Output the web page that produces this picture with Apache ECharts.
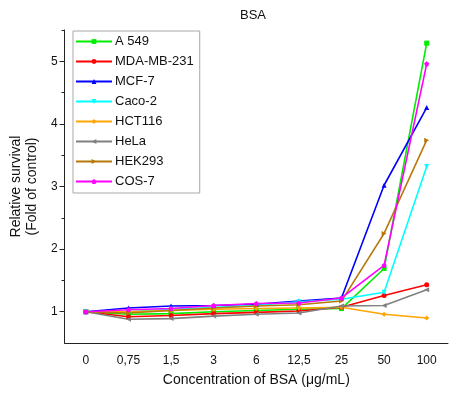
<!DOCTYPE html>
<html>
<head>
<meta charset="utf-8">
<script src="https://cdn.jsdelivr.net/npm/echarts@6/dist/echarts.min.js"></script>
<style>
  html, body { margin: 0; padding: 0; background: #fff; }
  #chart { width: 450px; height: 393px; }
</style>
</head>
<body>
<div id="chart"></div>
<script>
// concentrations (µg/mL)
const categories = ['0', '0,75', '1,5', '3', '6', '12,5', '25', '50', '100']

// relative survival, fold of control
const a549 = [1, 0.96, 0.97, 1.0, 1.02, 1.04, 1.05, 1.69, 5.29]
const mdaMb231 = [1, 0.92, 0.94, 0.97, 0.99, 1.01, 1.07, 1.26, 1.43]
const mcf7 = [1, 1.06, 1.09, 1.10, 1.12, 1.17, 1.22, 3.02, 4.26]
const caco2 = [1, 1.00, 1.04, 1.07, 1.10, 1.16, 1.20, 1.31, 3.32]
const hct116 = [1, 1.00, 1.02, 1.04, 1.05, 1.06, 1.07, 0.96, 0.90]
const hela = [1, 0.88, 0.89, 0.93, 0.96, 0.98, 1.09, 1.10, 1.35]
const hek293 = [1, 0.98, 1.02, 1.06, 1.09, 1.11, 1.17, 2.25, 3.74]
const cos7 = [1, 1.03, 1.05, 1.10, 1.13, 1.14, 1.22, 1.74, 4.96]

const majorTicks = [1, 2, 3, 4, 5]
const minorTicks = [1.5, 2.5, 3.5, 4.5, 5.5]

const font = 'Liberation Sans, Arial, sans-serif'
const pentagon = 'path://M0,-1 L0.951,-0.309 L0.588,0.809 L-0.588,0.809 L-0.951,-0.309 Z'

function line(name, data, color, symbol, rotate) {
  return {
    name,
    type: 'line',
    data,
    symbol,
    symbolSize: 5,
    symbolRotate: rotate || 0,
    showAllSymbol: true,
    lineStyle: { color, width: 1.6 },
    itemStyle: { color },
    emphasis: { disabled: true },
    animation: false
  }
}

const chart = echarts.init(document.getElementById('chart'), null, { renderer: 'canvas' })

chart.setOption({
  backgroundColor: '#fff',
  textStyle: { fontFamily: font },
  title: {
    text: 'BSA',
    left: 235,
    top: 4,
    textStyle: { fontFamily: font, fontSize: 13, fontWeight: 'normal', color: '#111' }
  },
  legend: {
    left: 73,
    top: 31,
    orient: 'vertical',
    padding: [4, 6, 5, 2],
    itemGap: 7,
    itemWidth: 36,
    itemHeight: 6,
    borderColor: '#a8a8a8',
    borderWidth: 1,
    textStyle: { fontFamily: font, fontSize: 13, color: '#111', padding: [0, 0, 0, -2] }
  },
  grid: { left: 58, right: 2, top: 30, bottom: 50, containLabel: false },
  xAxis: {
    type: 'category',
    data: categories,
    boundaryGap: true,
    name: 'Concentration of BSA (\u03bcg/mL)',
    nameLocation: 'middle',
    nameGap: 30,
    nameTextStyle: { fontFamily: font, fontSize: 14, color: '#111' },
    axisLine: { lineStyle: { color: '#222', width: 1 } },
    axisTick: { alignWithLabel: true, length: 5, inside: false, lineStyle: { color: '#222' } },
    axisLabel: { fontFamily: font, fontSize: 12, color: '#111', margin: 12, interval: 0 },
    splitLine: { show: false }
  },
  yAxis: [
    {
      type: 'value',
      min: 0.5,
      max: 5.5,
      name: 'Relative survival\n(Fold of control)',
      nameLocation: 'middle',
      nameGap: 19,
      nameRotate: 90,
      nameTextStyle: { fontFamily: font, fontSize: 14, color: '#111', lineHeight: 16 },
      axisLine: { show: true, lineStyle: { color: '#222', width: 1 } },
      axisTick: { show: true, length: 5, customValues: majorTicks, lineStyle: { color: '#222' } },
      axisLabel: { fontFamily: font, fontSize: 12, color: '#111', margin: 7, customValues: majorTicks },
      splitLine: { show: false }
    },
    {
      type: 'value',
      position: 'left',
      min: 0.5,
      max: 5.5,
      axisLine: { show: false },
      axisTick: { show: true, length: 3, customValues: minorTicks, lineStyle: { color: '#222' } },
      axisLabel: { show: false },
      splitLine: { show: false }
    }
  ],
  series: [
    line('A 549', a549, '#00ee00', 'rect'),
    line('MDA-MB-231', mdaMb231, '#ff0000', 'circle'),
    line('MCF-7', mcf7, '#0000ff', 'triangle'),
    line('Caco-2', caco2, '#00ffff', 'triangle', 180),
    line('HCT116', hct116, '#ffa500', 'diamond'),
    line('HeLa', hela, '#808080', 'triangle', 90),
    line('HEK293', hek293, '#b8790a', 'triangle', -90),
    line('COS-7', cos7, '#ff00ff', pentagon)
  ]
})
</script>
</body>
</html>
